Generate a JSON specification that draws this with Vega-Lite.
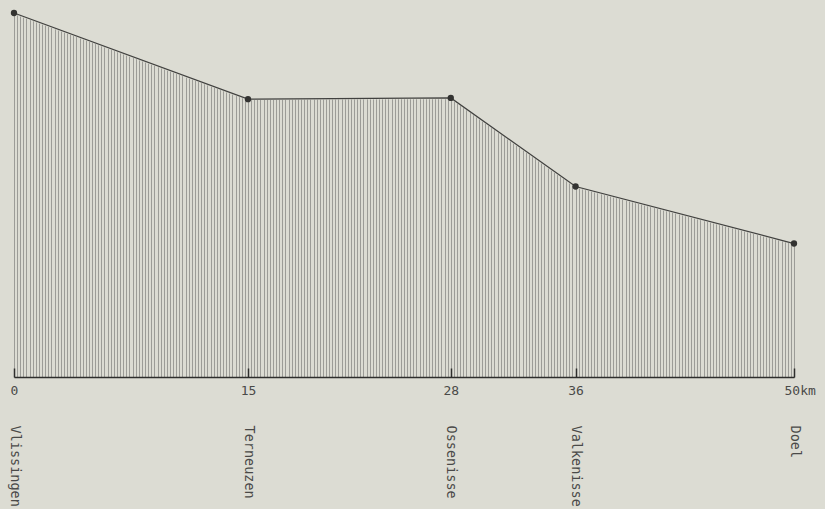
{
  "$schema": "https://vega.github.io/schema/vega-lite/v6.json",
  "width": 780,
  "height": 364,
  "autosize": {"type": "none"},
  "padding": {"left": 14, "top": 13, "right": 31, "bottom": 132},
  "background": "#dcdcd3",
  "config": {"view": {"stroke": null}},
  "data": {"values": [
    {"km": 0, "place": "Vlissingen", "value": 30.0},
    {"km": 15, "place": "Terneuzen", "value": 22.9},
    {"km": 28, "place": "Ossenisse", "value": 23.0},
    {"km": 36, "place": "Valkenisse", "value": 15.7},
    {"km": 50, "place": "Doel", "value": 11.0}
  ]},
  "resolve": {"axis": {"x": "independent"}},
  "layer": [
    {
      "mark": {"type": "area", "fill": "#dcdcd3", "stroke": "#dcdcd3", "strokeWidth": 2},
      "encoding": {
        "x": {"field": "km", "type": "quantitative", "scale": {"domain": [0, 50], "nice": false, "zero": false},
          "axis": {"orient": "top", "tickCount": 250, "grid": true, "gridColor": "#9c9c97", "gridWidth": 1, "gridOpacity": 1, "labels": false, "ticks": false, "domain": false, "title": null, "zindex": 0}},
        "y": {"field": "value", "type": "quantitative", "scale": {"domain": [0, 30], "nice": false}, "axis": null},
        "y2": {"datum": 30}
      }
    },
    {
      "mark": {"type": "line", "color": "#41413f", "strokeWidth": 1.3},
      "encoding": {
        "x": {"field": "km", "type": "quantitative",
          "axis": {"orient": "bottom", "values": [0, 15, 28, 36, 50], "title": null, "grid": false,
            "domainColor": "#2e2e2c", "domainWidth": 1.5, "tickColor": "#2e2e2c", "tickWidth": 1.5, "tickSize": -9,
            "labelExpr": "datum.value == 50 ? '50km' : datum.label",
            "labelAlign": {"condition": {"test": "datum.value == 50", "value": "left"}, "value": "center"},
            "labelOffset": {"condition": {"test": "datum.value == 50", "value": -10}, "value": 0},
            "labelFont": "DejaVu Sans Mono", "labelFontSize": 13, "labelColor": "#4a4a48", "labelPadding": 16, "zindex": 1}},
        "y": {"field": "value", "type": "quantitative"}
      }
    },
    {
      "mark": {"type": "point", "filled": true, "color": "#333331", "size": 40, "opacity": 1},
      "encoding": {
        "x": {"field": "km", "type": "quantitative",
          "axis": {"orient": "bottom", "values": [0, 15, 28, 36, 50], "title": null, "grid": false, "domain": false, "ticks": false,
            "labelAngle": 90, "labelAlign": "left", "labelBaseline": "middle", "labelPadding": 48,
            "labelExpr": "datum.value == 0 ? 'Vlissingen' : datum.value == 15 ? 'Terneuzen' : datum.value == 28 ? 'Ossenisse' : datum.value == 36 ? 'Valkenisse' : 'Doel'",
            "labelFont": "DejaVu Sans Mono", "labelFontSize": 13.5, "labelColor": "#4a4a48", "zindex": 1}},
        "y": {"field": "value", "type": "quantitative"}
      }
    }
  ]
}
